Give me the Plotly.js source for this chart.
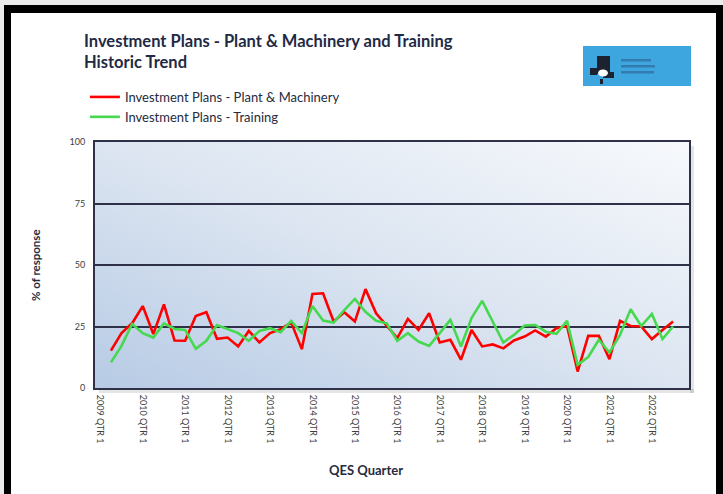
<!DOCTYPE html>
<html><head><meta charset="utf-8">
<script src="https://cdn.plot.ly/plotly-3.0.1.min.js"></script>
<style>
html,body{margin:0;padding:0;background:#ececec;width:723px;height:494px;overflow:hidden}
#frame{position:absolute;left:4px;top:5px;width:705px;height:500px;background:#fff;border-left:7px solid #000;border-top:8px solid #000;border-right:7px solid #000}
#chart{position:absolute;left:0;top:0;width:723px;height:494px}
</style></head><body><div id="frame"></div><div id="chart"></div>
<script>
// Categories: quarters 2009 QTR 1 .. 2022 QTR 4
var years = [2009,2010,2011,2012,2013,2014,2015,2016,2017,2018,2019,2020,2021,2022];
var quarters = ["QTR 1","QTR 2","QTR 3","QTR 4"];
var categories = [];
years.forEach(function(y){ quarters.forEach(function(q){ categories.push(y + " " + q); }); });
var tickLabels = years.map(function(y){ return y + " QTR 1"; });

var plantMachinery = [null,
  15.2, 22.3, 26.3, 33.3, 21.9, 34.0, 19.3, 19.2, 29.3, 30.8,
  20.0, 20.5, 16.9, 23.2, 18.5, 22.3, 23.9, 26.6, 15.8, 38.2,
  38.5, 27.0, 30.8, 27.0, 40.2, 30.4, 25.3, 20.3, 28.1, 23.6,
  30.4, 18.5, 19.6, 11.5, 23.6, 16.9, 17.7, 16.1, 19.3, 20.9,
  23.4, 20.9, 24.3, 25.2, 6.7, 21.2, 21.2, 11.7, 27.3, 25.2,
  25.0, 19.9, 23.6, 27.0, null];
var training = [null,
  10.4, 17.1, 26.0, 22.3, 20.5, 26.3, 24.0, 23.6, 15.9, 19.2,
  25.6, 24.0, 22.3, 19.2, 23.2, 24.3, 22.7, 27.3, 22.3, 33.3,
  27.4, 26.6, 31.7, 36.2, 31.0, 27.3, 26.3, 19.2, 22.3, 18.9,
  17.1, 22.3, 27.7, 16.9, 28.4, 35.4, 27.0, 18.5, 21.6, 25.4,
  25.6, 22.9, 22.0, 27.3, 9.4, 12.6, 19.6, 14.4, 21.6, 32.0,
  25.2, 30.1, 19.9, 25.0, null];
var seriesNames = ["Investment Plans - Plant & Machinery", "Investment Plans - Training"];
var yTicks = [0, 25, 50, 75, 100];

var gradSvg = '<svg xmlns="http://www.w3.org/2000/svg" width="100" height="100" preserveAspectRatio="none" viewBox="0 0 100 100">' +
  '<defs><linearGradient id="g" x1="0" y1="1" x2="1" y2="0">' +
  '<stop offset="0" stop-color="#b7cbe5"/><stop offset="0.5" stop-color="#dce5f1"/><stop offset="1" stop-color="#f7f9fc"/>' +
  '</linearGradient></defs><rect width="100" height="100" fill="url(#g)"/></svg>';
var logoSvg = '<svg xmlns="http://www.w3.org/2000/svg" width="108" height="40" viewBox="0 0 108 40">' +
  '<rect width="108" height="40" fill="#3da6df"/>' +
  '<path d="M14 10 h13 v16 h4 v6 h-11 v-4 h-6 z" fill="#1c2230"/>' +
  '<path d="M7 22 h7 v7 h-7 z" fill="#1c2230"/>' +
  '<ellipse cx="20" cy="27" rx="5" ry="3.5" fill="#ffffff"/>' +
  '<rect x="17" y="33" width="3" height="5" fill="#1c2230"/>' +
  '<rect x="38" y="13" width="30" height="2.5" fill="#2a5a88" opacity="0.55"/>' +
  '<rect x="38" y="19" width="34" height="2.5" fill="#2a5a88" opacity="0.55"/>' +
  '<rect x="38" y="25" width="33" height="2.5" fill="#2a5a88" opacity="0.55"/>' +
  '</svg>';

var ink = "#2e3148";
var traces = [
  {x: categories, y: plantMachinery, name: seriesNames[0], type: "scatter", mode: "lines",
   line: {color: "#ff0000", width: 2.6}, connectgaps: false},
  {x: categories, y: training, name: seriesNames[1], type: "scatter", mode: "lines",
   line: {color: "#46d84e", width: 2.6}, connectgaps: false}
];

var layout = {
  width: 723, height: 494,
  margin: {l: 95, r: 34, t: 142, b: 106},
  paper_bgcolor: "rgba(0,0,0,0)",
  plot_bgcolor: "rgba(0,0,0,0)",
  font: {family: "Lato, 'Open Sans', sans-serif", color: "#404040"},
  title: {text: "<b>Investment Plans - Plant &amp; Machinery and Training<br>Historic Trend</b>",
    x: 84/723, xanchor: "left", xref: "container", y: 1 - 47/494, yanchor: "top", yref: "container",
    font: {family: "Lato, sans-serif", size: 16.5, color: "#1f2a44"}},
  showlegend: true,
  legend: {x: -0.017, y: 1.244, xanchor: "left", yanchor: "top", orientation: "v",
    font: {family: "Lato, sans-serif", size: 13, color: "#262b40"}, bgcolor: "rgba(0,0,0,0)",
    itemwidth: 30, tracegroupgap: 0},
  xaxis: {type: "category", categoryorder: "array", categoryarray: categories,
    range: [-0.5, categories.length - 0.5],
    tickmode: "array", tickvals: tickLabels, ticktext: tickLabels, tickangle: 90,
    tickfont: {family: "Lato, sans-serif", size: 9, color: "#404040"},
    showgrid: false, showline: true, linecolor: ink, linewidth: 2, mirror: true,
    ticks: "", ticklabelstandoff: 3, zeroline: false, fixedrange: true},
  yaxis: {range: [0, 100], tickmode: "array", tickvals: yTicks,
    tickfont: {family: "Lato, sans-serif", size: 9, color: "#404040"},
    showgrid: true, gridcolor: ink, gridwidth: 2,
    showline: true, linecolor: ink, linewidth: 2, mirror: true,
    ticks: "", ticklabelstandoff: 6, zeroline: false, fixedrange: true},
  images: [
    {source: "data:image/svg+xml;charset=utf-8," + encodeURIComponent(gradSvg),
     xref: "paper", yref: "paper", x: 0, y: 1, sizex: 1, sizey: 1, xanchor: "left", yanchor: "top",
     sizing: "stretch", layer: "below"},
    {source: "data:image/svg+xml;charset=utf-8," + encodeURIComponent(logoSvg),
     xref: "paper", yref: "paper", x: (583-95)/594, y: (388-46)/246, sizex: 108/594, sizey: 40/246,
     xanchor: "left", yanchor: "top", sizing: "stretch", layer: "above"}
  ],
  shapes: [
    {type: "rect", xref: "paper", yref: "paper", x0: 1 + 1/594, x1: 1 + 5/594, y0: -5/246, y1: 1 - 4/246,
     fillcolor: "rgba(0,0,0,0.10)", line: {width: 0}, layer: "below"},
    {type: "rect", xref: "paper", yref: "paper", x0: 4/594, x1: 1 + 5/594, y0: -5/246, y1: -1/246,
     fillcolor: "rgba(0,0,0,0.10)", line: {width: 0}, layer: "below"}
  ],
  annotations: [
    {text: "<b>% of response</b>", xref: "paper", yref: "paper", x: (35-95)/594, y: 0.5,
     textangle: -90, showarrow: false, xanchor: "center", yanchor: "middle",
     font: {family: "Lato, sans-serif", size: 11.5, color: "#262b40"}},
    {text: "<b>QES Quarter</b>", xref: "paper", yref: "paper", x: (366-95)/594, y: (388-470)/246,
     showarrow: false, xanchor: "center", yanchor: "middle",
     font: {family: "Lato, sans-serif", size: 13, color: "#262b40"}}
  ]
};

Plotly.newPlot("chart", traces, layout, {staticPlot: true, displayModeBar: false});
</script></body></html>
